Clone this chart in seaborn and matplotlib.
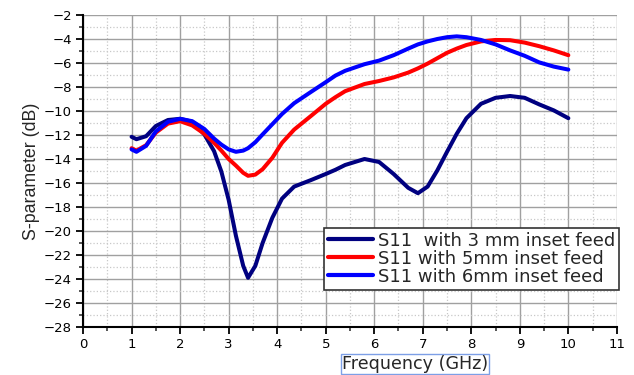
import seaborn as sns
import matplotlib
matplotlib.use('Agg')
import matplotlib.pyplot as plt
from matplotlib.ticker import MultipleLocator
import pandas as pd

# frequency points (GHz)
freq = [1.0, 1.1, 1.3, 1.5, 1.75, 2.0, 2.25, 2.5, 2.7, 2.85, 3.0, 3.15, 3.3, 3.4,
        3.55, 3.7, 3.9, 4.1, 4.35, 4.7, 5.0, 5.2, 5.4, 5.8, 6.1, 6.4, 6.7, 6.9, 7.1,
        7.3, 7.5, 7.7, 7.9, 8.2, 8.5, 8.8, 9.1, 9.4, 9.7, 10.0]

s11_3mm = [-12.15, -12.35, -12.1, -11.25, -10.75, -10.65, -10.9, -11.95, -13.35, -15.05,
           -17.4, -20.4, -22.9, -23.9, -22.9, -21.0, -18.9, -17.3, -16.3, -15.75,
           -15.25, -14.9, -14.5, -14.0, -14.25, -15.25, -16.4, -16.85, -16.3, -14.95,
           -13.4, -11.9, -10.6, -9.4, -8.9, -8.75, -8.9, -9.45, -9.95, -10.6]

s11_5mm = [-13.1, -13.3, -12.85, -11.8, -11.05, -10.85, -11.2, -11.9, -12.65, -13.3,
           -14.0, -14.55, -15.15, -15.4, -15.3, -14.85, -13.9, -12.65, -11.55, -10.4,
           -9.4, -8.85, -8.35, -7.75, -7.5, -7.2, -6.8, -6.45, -6.05, -5.6,
           -5.15, -4.8, -4.5, -4.2, -4.08, -4.1, -4.3, -4.6, -4.95, -5.35]

s11_6mm = [-13.2, -13.4, -12.9, -11.7, -10.9, -10.65, -10.85, -11.5, -12.3, -12.8,
           -13.2, -13.4, -13.3, -13.1, -12.6, -11.95, -11.1, -10.25, -9.35, -8.4,
           -7.6, -7.05, -6.65, -6.1, -5.8, -5.35, -4.8, -4.45, -4.2, -4.0,
           -3.85, -3.78, -3.85, -4.08, -4.45, -4.95, -5.4, -5.95, -6.3, -6.55]

labels = ['S11  with 3 mm inset feed', 'S11 with 5mm inset feed', 'S11 with 6mm inset feed']
colors = ['#000080', '#ff0000', '#0000ff']

df = pd.DataFrame({
    'freq': freq * 3,
    's': s11_3mm + s11_5mm + s11_6mm,
    'curve': [labels[0]] * len(freq) + [labels[1]] * len(freq) + [labels[2]] * len(freq),
})

sns.set_style('white')
plt.rcParams['font.family'] = ['DejaVu Sans']

fig = plt.figure(figsize=(6.34, 3.75), dpi=100)
ax = fig.add_axes([0.131, 0.128, 0.842, 0.832])

sns.lineplot(data=df, x='freq', y='s', hue='curve', palette=colors, hue_order=labels,
             estimator=None, linewidth=2.9, ax=ax)

ax.set_xlim(0, 11)
ax.set_ylim(-28, -2)
ax.xaxis.set_major_locator(MultipleLocator(1))
ax.xaxis.set_minor_locator(MultipleLocator(0.5))
ax.yaxis.set_major_locator(MultipleLocator(2))
ax.yaxis.set_minor_locator(MultipleLocator(1))

ax.grid(which='major', color='#a0a0a0', linestyle='-', linewidth=1.0)
ax.grid(which='minor', color='#c8c8c8', linestyle=':', linewidth=0.9)
ax.set_axisbelow(True)

for side in ['top', 'right']:
    ax.spines[side].set_visible(False)
for side in ['left', 'bottom']:
    ax.spines[side].set_color('black')
    ax.spines[side].set_linewidth(1.5)

ax.tick_params(which='major', direction='out', length=5, width=1.3, labelsize=9.5,
               bottom=True, left=True, colors='black', pad=3)
ax.tick_params(which='minor', direction='out', length=3, width=1.1, bottom=True, left=True)

ax.set_ylabel('S-parameter (dB)', fontsize=12.8, labelpad=3, family='Liberation Sans')
ax.set_xlabel('Frequency (GHz)', fontsize=12.6, labelpad=3,
              bbox=dict(facecolor='none', edgecolor='#7d9fe6', pad=0.6, linewidth=1))
ax.xaxis.label.set_x(0.622)

leg = ax.legend(loc='lower right', bbox_to_anchor=(1.004, 0.12), fontsize=13,
                frameon=True, fancybox=False, edgecolor='#333333', framealpha=1,
                handlelength=2.5, handletextpad=0.25, borderpad=0.22, labelspacing=0.0,
                borderaxespad=0)
leg.get_frame().set_linewidth(1.2)
for line in leg.get_lines():
    line.set_linewidth(3)

fig.savefig('out.png', dpi=100)
